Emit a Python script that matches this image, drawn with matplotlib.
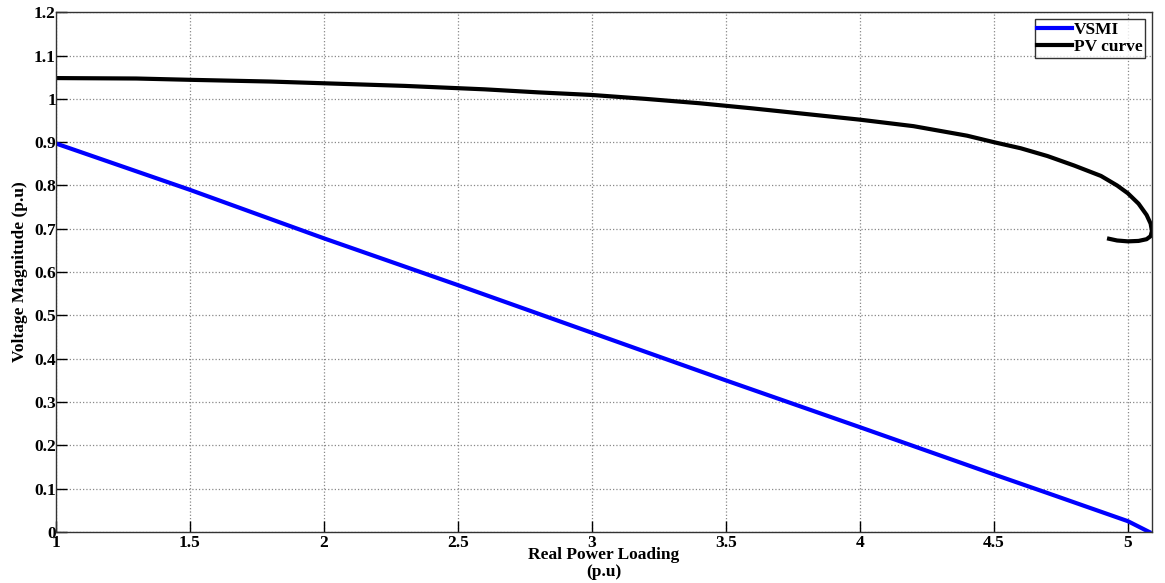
import matplotlib
matplotlib.use('Agg')
import matplotlib.pyplot as plt
from matplotlib.ticker import FuncFormatter

# VSMI index vs loading
vsmi_p = [1.0, 1.5, 2.0, 2.5, 3.0, 3.5, 4.0, 4.5, 4.7, 5.0, 5.08]
vsmi_v = [0.897, 0.79, 0.678, 0.57, 0.46, 0.35, 0.242, 0.133, 0.09, 0.025, 0.0]

# PV (nose) curve
pv_p = [1.0, 1.3, 1.5, 1.8, 2.0, 2.3, 2.6, 2.8, 3.0, 3.2, 3.4, 3.6, 3.8, 4.0,
        4.2, 4.4, 4.5, 4.6, 4.7, 4.8, 4.9, 4.96, 5.0, 5.04, 5.07, 5.085, 5.09,
        5.085, 5.07, 5.04, 5.0, 4.96, 4.93]
pv_v = [1.048, 1.047, 1.044, 1.040, 1.036, 1.030, 1.022, 1.015, 1.009, 1.0,
        0.99, 0.978, 0.965, 0.952, 0.937, 0.915, 0.900, 0.886, 0.868, 0.846,
        0.822, 0.80, 0.782, 0.758, 0.732, 0.712, 0.695, 0.683, 0.676, 0.672,
        0.671, 0.673, 0.677]

plt.rcParams['font.family'] = ['Liberation Serif', 'DejaVu Serif']
plt.rcParams['font.weight'] = 'bold'

fig = plt.figure(figsize=(11.65, 5.83), dpi=100)
ax = fig.add_axes([0.048, 0.0875, 0.9408, 0.8915])

ax.plot(vsmi_p, vsmi_v, color='#0000ff', lw=3, label='VSMI')
ax.plot(pv_p, pv_v, color='black', lw=3, label='PV curve',
        solid_joinstyle='round')

ax.set_xlim(1, 5.09)
ax.set_ylim(0, 1.2)
ax.set_xticks([1, 1.5, 2, 2.5, 3, 3.5, 4, 4.5, 5])
ax.set_yticks([i / 10 for i in range(13)])
fmt = FuncFormatter(lambda v, pos: '%g' % round(v, 2))
ax.xaxis.set_major_formatter(fmt)
ax.yaxis.set_major_formatter(fmt)
ax.tick_params(direction='in', length=8, width=1, labelsize=12.5)
ax.tick_params(axis='y', pad=0)
ax.tick_params(axis='x', pad=2)
for lbl in ax.get_xticklabels() + ax.get_yticklabels():
    lbl.set_fontweight('bold')

ax.grid(True, linestyle=':', color='#888888', linewidth=0.9)
for sp in ax.spines.values():
    sp.set_linewidth(1)
    sp.set_color('#333333')

ax.set_xlabel('Real Power Loading\n(p.u)', fontsize=12.5, fontweight='bold',
              labelpad=-3, linespacing=1.1)
ax.set_ylabel('Voltage Magnitude (p.u)', fontsize=12.5, fontweight='bold',
              labelpad=4)

leg = ax.legend(loc='upper right', fontsize=12.5, frameon=True, fancybox=False,
                edgecolor='black', borderpad=0.15, handlelength=2.0,
                handletextpad=0.1, labelspacing=0.05, borderaxespad=0.4)
leg.get_frame().set_linewidth(1)
for t in leg.get_texts():
    t.set_fontweight('bold')

fig.savefig('out.png', dpi=100)
